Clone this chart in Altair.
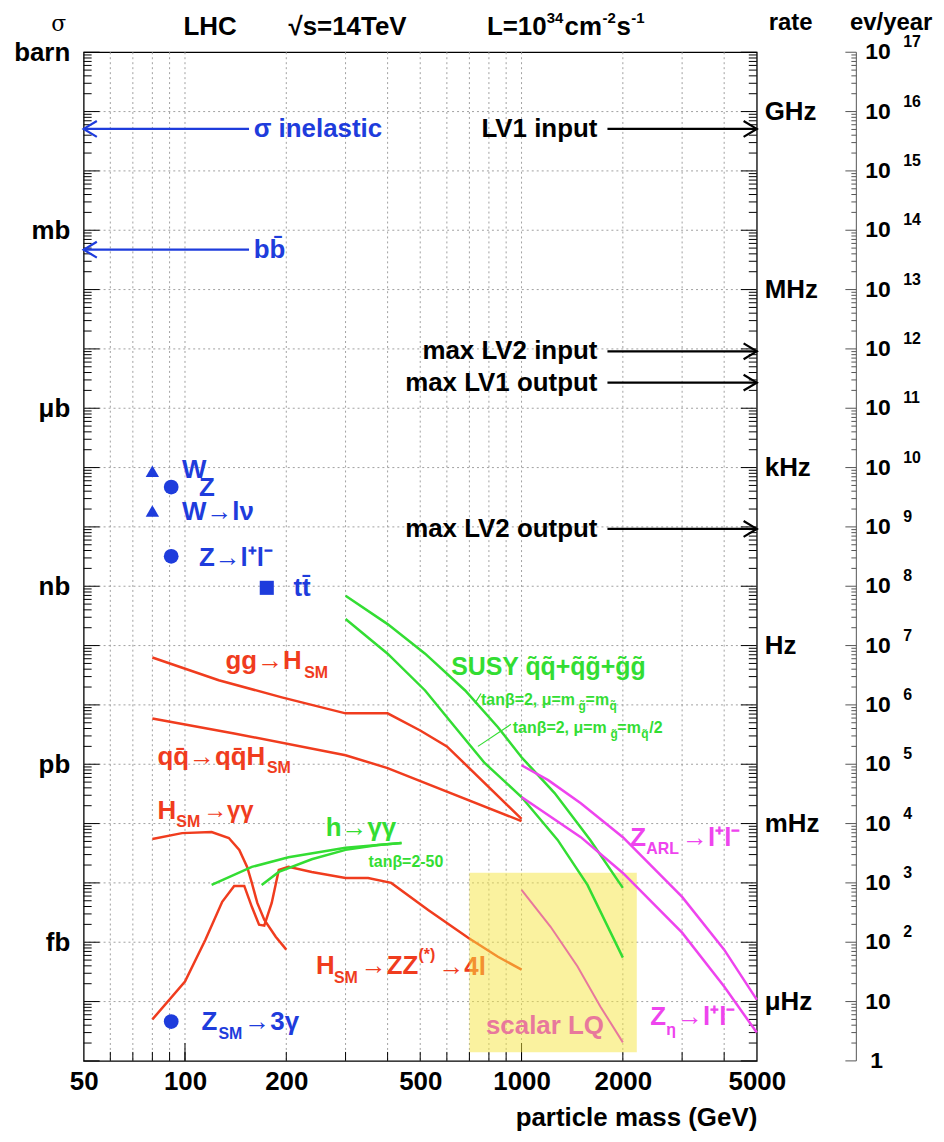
import altair as alt
import pandas as pd

FONT = "Liberation Sans"
BLUE = "#1e3cdc"
RED = "#f03c1e"
GREEN = "#33dd33"
MAGENTA = "#ee44ee"
PINK = "#e8789c"
BOXC = "#f5e640"

# ---------------- axes / tick values ----------------
mass_labels = [50, 100, 200, 500, 1000, 2000, 5000]
mass_grid = [60, 70, 80, 90, 100, 200, 300, 400, 500, 600, 700, 800, 900,
             1000, 2000, 3000, 4000]
mass_major = [100, 1000]
unit_vals = [1e17, 1e14, 1e11, 1e8, 1e5, 1e2]
unit_names = ["barn", "mb", "μb", "nb", "pb", "fb"]
rate_vals = [1e16, 1e13, 1e10, 1e7, 1e4, 1e1]
rate_names = ["GHz", "MHz", "kHz", "Hz", "mHz", "μHz"]
decades = list(range(0, 18))

# ---------------- curves (mass GeV, events / year) ----------------
gg_m = [80, 126, 194, 300, 400, 500, 600, 1000]
gg_ev = [6.3e6, 2.6e6, 1.34e6, 7.2e5, 7.2e5, 3.7e5, 2.0e5, 1.2e4]

qq_m = [80, 140, 300, 400, 1000]
qq_ev = [5.9e5, 3.3e5, 1.42e5, 8.6e4, 1.1e4]

hgg_m = [80, 98, 120, 135, 145, 153, 158, 164, 172, 186, 200]
hgg_ev = [5.5e3, 6.9e3, 7.2e3, 5.7e3, 3.6e3, 1.86e3, 1.0e3, 460, 240, 124, 75]

hzz_m = [80, 100, 115, 129, 140, 150, 158, 166, 172, 181, 190, 203, 238,
         300, 350, 410, 528, 694, 851, 1000]
hzz_ev = [5.0, 21.7, 110, 480, 890, 890, 395, 197, 190, 460, 1650, 1860,
          1530, 1210, 1210, 1000, 350, 119, 57, 34.5]

hsusy1_m = [120, 158, 203, 300, 440]
hsusy1_ev = [925, 1860, 2700, 3900, 4700]
hsusy2_m = [169, 190, 238, 300, 375, 440]
hsusy2_ev = [925, 1530, 2500, 3600, 4350, 4700]

susy1_m = [300, 400, 517, 680, 851, 1000, 1254, 1600, 2000]
susy1_ev = [6.9e7, 2.3e7, 7.3e6, 1.75e6, 4.2e5, 1.31e5, 3.26e4, 5.3e3, 825]
susy2_m = [300, 400, 517, 635, 778, 1000, 1280, 1570, 2000]
susy2_ev = [2.8e7, 7.3e6, 1.75e6, 4.2e5, 1.04e5, 2.8e4, 5.3e3, 925, 55]

zarl_m = [1000, 1200, 1500, 2000, 3000, 4000, 5000]
zarl_ev = [9.6e4, 5.4e4, 2.2e4, 5.9e3, 580, 75, 10.8]
zeta_m = [1000, 1500, 2000, 3000, 4000, 5000]
zeta_ev = [2.8e4, 5.9e3, 1.47e3, 145, 17.9, 3.0]

lq_m = [1000, 1220, 1467, 1716, 2000]
lq_ev = [760, 182, 39, 8.2, 2.05]

lq_box_m = [700, 2200]
lq_box_ev = [1.4, 1480]

# single processes (markers)
mk_m = [80, 91, 80, 91, 175, 91]
mk_ev = [8.7e9, 4.7e9, 1.86e9, 3.2e8, 9.4e7, 4.6]
mk_shape = ["triangle-up", "circle", "triangle-up", "circle", "square", "circle"]
mk_size = [180, 220, 180, 220, 200, 220]

# arrows: start mass, end mass, level
arrL_m0 = [155, 155]
arrL_m1 = [50, 50]
arrL_ev = [5.1e15, 4.7e13]
arrR_m0 = [1800, 1800, 1800, 1800]
arrR_m1 = [5000, 5000, 5000, 5000]
arrR_ev = [5.1e15, 9.1e11, 2.7e11, 9.25e8]

# leader lines for the tan(beta) notes
lead_m0 = [758, 930]
lead_ev0 = [1.56e6, 4.7e5]
lead_m1 = [727, 742]
lead_ev1 = [1.06e6, 2.0e5]

# text pieces: text, mass, ev, color, size, dx, dy, align
RED_LABELS = [
    ("gg→H", 132, 5.4e6, RED, 26, 0, 0, "left"),
    ("SM", 132, 5.4e6, RED, 16, 79, 12, "left"),
    ("qq̄→qq̄H", 82.8, 1.31e5, RED, 26, 0, 0, "left"),
    ("SM", 82.8, 1.31e5, RED, 16, 110, 11, "left"),
    ("H", 82.8, 1.62e4, RED, 26, 0, 0, "left"),
    ("SM", 82.8, 1.62e4, RED, 16, 19, 11, "left"),
    ("→γγ", 82.8, 1.62e4, RED, 24, 46, 0, "left"),
    ("H", 245, 40, RED, 26, 0, 0, "left"),
    ("SM", 245, 40, RED, 16, 18, 12, "left"),
    ("→ZZ", 245, 40, RED, 26, 45, 0, "left"),
    ("(*)", 245, 40, RED, 16, 103, -11, "left"),
    ("→4l", 245, 40, RED, 26, 123, 1, "left"),
]
LABELS = [
    ("σ inelastic", 160, 5.1e15, BLUE, 26, 0, 0, "left"),
    ("bb̄", 160, 4.7e13, BLUE, 26, 0, 0, "left"),
    ("LV1 input", 1680, 5.1e15, "black", 26, 0, 0, "right"),
    ("max LV2 input", 1680, 9.1e11, "black", 26, 0, 0, "right"),
    ("max LV1 output", 1680, 2.7e11, "black", 26, 0, 0, "right"),
    ("max LV2 output", 1680, 9.25e8, "black", 26, 0, 0, "right"),
    ("W", 98, 9.1e9, BLUE, 26, 0, 0, "left"),
    ("Z", 98, 9.1e9, BLUE, 26, 17, 18, "left"),
    ("W→lν", 98, 1.79e9, BLUE, 26, 0, 0, "left"),
    ("Z→l⁺l⁻", 110, 3.0e8, BLUE, 26, 0, 0, "left"),
    ("tt̄", 210, 9.4e7, BLUE, 26, 0, 0, "left"),
    ("Z", 112, 4.6, BLUE, 26, 0, 0, "left"),
    ("SM", 112, 4.6, BLUE, 16, 17, 12, "left"),
    ("→3γ", 112, 4.6, BLUE, 26, 43, 0, "left"),
    ("h→γγ", 262, 8.4e3, GREEN, 26, 0, 0, "left"),
    ("tanβ=2-50", 351, 2.25e3, GREEN, 16, 0, 0, "left"),
    ("SUSY q̃q̃+q̃g̃+g̃g̃", 618, 4.4e6, GREEN, 25, 0, 0, "left"),
    ("tanβ=2, μ=m", 758, 1.19e6, GREEN, 16, 0, 0, "left"),
    ("g̃", 758, 1.19e6, GREEN, 12, 98, 6, "left"),
    ("=m", 758, 1.19e6, GREEN, 16, 105, 0, "left"),
    ("q̃", 758, 1.19e6, GREEN, 12, 129, 6, "left"),
    ("tanβ=2, μ=m", 942, 4.0e5, GREEN, 16, 0, 0, "left"),
    ("g̃", 942, 4.0e5, GREEN, 12, 98, 6, "left"),
    ("=m", 942, 4.0e5, GREEN, 16, 105, 0, "left"),
    ("q̃", 942, 4.0e5, GREEN, 12, 129, 6, "left"),
    ("/2", 942, 4.0e5, GREEN, 16, 137, 0, "left"),
    ("Z", 2105, 5.7e3, MAGENTA, 26, 0, 0, "left"),
    ("ARL", 2105, 5.7e3, MAGENTA, 16, 16, 11, "left"),
    ("→l⁺l⁻", 2105, 5.7e3, MAGENTA, 26, 52, 0, "left"),
    ("Z", 2412, 5.4, MAGENTA, 26, 0, 0, "left"),
    ("η", 2412, 5.4, MAGENTA, 16, 16, 13, "left"),
    ("→l⁺l⁻", 2412, 5.4, MAGENTA, 26, 27, 0, "left"),
    ("scalar LQ", 784, 3.8, PINK, 26, 0, 0, "left"),
]

# header texts (outside the frame): text, x px, y px, size, font, weight, align
HEADERS = [
    ("σ", -25, -28, 22, "DejaVu Serif", "normal", "center"),
    ("LHC", 127, -25, 26, FONT, "bold", "center"),
    ("√s=14TeV", 265, -25, 26, FONT, "bold", "center"),
    ("L=10", 405, -25, 26, FONT, "bold", "left"),
    ("34", 465, -34, 15, FONT, "bold", "left"),
    ("cm", 483, -25, 26, FONT, "bold", "left"),
    ("-2", 521, -34, 15, FONT, "bold", "left"),
    ("s", 535, -25, 26, FONT, "bold", "left"),
    ("-1", 550, -34, 15, FONT, "bold", "left"),
    ("rate", 710, -29, 24, FONT, "bold", "center"),
    ("ev/year", 811, -29, 24, FONT, "bold", "center"),
]

# ---------------- layout ----------------
W = 676
H = 1013
EVX = 776

xs = alt.Scale(type="log", domain=[50, 5000], nice=False)
ys = alt.Scale(type="log", domain=[1, 1e17], nice=False)

expr = ""
for v, n in zip(unit_vals, unit_names):
    d = len(str(int(v))) - 1
    expr += f"round(log(datum.value)/LN10)=={d}?'{n}':"
expr += "''"

xaxis = alt.Axis(values=mass_labels, format="d", labelFont=FONT, labelFontSize=26,
                 labelFontWeight="bold", labelColor="black", labelPadding=8,
                 labelFlush=False, ticks=False, tickSize=0, domain=False, grid=False,
                 title="particle mass (GeV)", titleFont=FONT, titleFontSize=26,
                 titleFontWeight="bold", titleColor="black", titleAnchor="end",
                 titlePadding=10)
yaxis = alt.Axis(values=unit_vals, labelExpr=expr, labelFont=FONT, labelFontSize=26,
                 labelFontWeight="bold", labelColor="black", labelPadding=14,
                 ticks=False, tickSize=0, domain=False, grid=False, title=None)


def X(f="m"):
    return alt.X(f"{f}:Q", scale=xs, axis=xaxis)


def Y(f="ev"):
    return alt.Y(f"{f}:Q", scale=ys, axis=yaxis)


layers = []

# grid
hgrid = pd.DataFrame({"ev": [10.0 ** d for d in decades[1:-1]]})
layers.append(alt.Chart(hgrid).mark_rule(color="#a0a0a0", strokeWidth=1, strokeDash=[2, 3])
              .encode(y=Y(), x=alt.value(0), x2=alt.value(W)))
vgrid = pd.DataFrame({"m": mass_grid})
layers.append(alt.Chart(vgrid).mark_rule(color="#a0a0a0", strokeWidth=1, strokeDash=[2, 3])
              .encode(x=X(), y=alt.value(0), y2=alt.value(H)))

# frame ticks
ymaj = pd.DataFrame({"ev": [10.0 ** d for d in decades]})
ymin = pd.DataFrame({"ev": [k * 10.0 ** d for d in decades[:-1] for k in range(2, 10)]})


def hticks(df, x0, x1, color="black"):
    return alt.Chart(df).mark_rule(color=color, strokeWidth=1).encode(
        y=Y(), x=alt.value(x0), x2=alt.value(x1))


layers += [hticks(ymaj, 0, 16), hticks(ymin, 0, 8),
           hticks(ymaj, W, W - 16), hticks(ymin, W, W - 8)]
xmin = pd.DataFrame({"m": mass_grid})
xmaj = pd.DataFrame({"m": mass_major})
layers.append(alt.Chart(xmin).mark_rule(color="black", strokeWidth=1)
              .encode(x=X(), y=alt.value(H), y2=alt.value(H - 9)))
layers.append(alt.Chart(xmaj).mark_rule(color="black", strokeWidth=1)
              .encode(x=X(), y=alt.value(H), y2=alt.value(H - 18)))

# second (ev/year) axis
layers.append(alt.Chart(ymaj.head(1)).mark_rule(color="#555555", strokeWidth=1)
              .encode(x=alt.value(EVX), y=alt.value(0), y2=alt.value(H)))
layers += [hticks(ymaj, EVX, EVX - 11, "#555555"), hticks(ymin, EVX, EVX - 5, "#555555")]
evlab = pd.DataFrame({"ev": [10.0 ** d for d in decades[1:]],
                      "t": ["10"] * (len(decades) - 1)})
layers.append(alt.Chart(evlab).mark_text(align="left", baseline="middle", font=FONT,
                                         fontSize=23, fontWeight="bold", color="black")
              .encode(y=Y(), x=alt.value(EVX + 9), text="t:N"))
evone = pd.DataFrame({"ev": [1.0], "t": ["1"]})
layers.append(alt.Chart(evone).mark_text(align="left", baseline="middle", font=FONT,
                                         fontSize=23, fontWeight="bold", color="black")
              .encode(y=Y(), x=alt.value(EVX + 14), text="t:N"))
evexp = pd.DataFrame({"ev": [10.0 ** d for d in decades[2:]],
                      "t": [str(d) for d in decades[2:]]})
layers.append(alt.Chart(evexp).mark_text(align="left", baseline="middle", font=FONT,
                                         fontSize=16, fontWeight="bold", color="black", dy=-10)
              .encode(y=Y(), x=alt.value(EVX + 47), text="t:N"))

# rate labels
ratedf = pd.DataFrame({"ev": rate_vals, "t": rate_names})
layers.append(alt.Chart(ratedf).mark_text(align="left", baseline="middle", font=FONT,
                                          fontSize=26, fontWeight="bold", color="black")
              .encode(y=Y(), x=alt.value(W + 8), text="t:N"))


def line(m, ev, color, width=2.5):
    df = pd.DataFrame({"m": m, "ev": ev})
    return alt.Chart(df).mark_line(color=color, strokeWidth=width).encode(x=X(), y=Y())


def labels(rows):
    out = []
    for t, m, ev, c, s, dx, dy, al in rows:
        df = pd.DataFrame({"m": [m], "ev": [ev], "t": [t]})
        out.append(alt.Chart(df).mark_text(align=al, baseline="middle", font=FONT,
                                           fontSize=s, fontWeight="bold", color=c,
                                           dx=dx, dy=dy)
                   .encode(x=X(), y=Y(), text="t:N"))
    return out


# red SM Higgs curves
for m, ev in [(gg_m, gg_ev), (qq_m, qq_ev), (hgg_m, hgg_ev), (hzz_m, hzz_ev)]:
    layers.append(line(m, ev, RED))
layers += labels(RED_LABELS)

# LQ search box (translucent)
boxdf = pd.DataFrame({"m": [lq_box_m[0]], "m2": [lq_box_m[1]],
                      "ev": [lq_box_ev[0]], "ev2": [lq_box_ev[1]]})
layers.append(alt.Chart(boxdf).mark_rect(color=BOXC, opacity=0.5)
              .encode(x=X(), x2=alt.X2("m2:Q"), y=Y(), y2=alt.Y2("ev2:Q")))

# green, magenta, pink curves
for m, ev in [(hsusy1_m, hsusy1_ev), (hsusy2_m, hsusy2_ev),
              (susy1_m, susy1_ev), (susy2_m, susy2_ev)]:
    layers.append(line(m, ev, GREEN))
for m, ev in [(zarl_m, zarl_ev), (zeta_m, zeta_ev)]:
    layers.append(line(m, ev, MAGENTA))
layers.append(line(lq_m, lq_ev, PINK, 2))

leaddf = pd.DataFrame({"m": lead_m0, "ev": lead_ev0, "m2": lead_m1, "ev2": lead_ev1})
layers.append(alt.Chart(leaddf).mark_rule(color=GREEN, strokeWidth=1.2)
              .encode(x=X(), y=Y(), x2=alt.X2("m2:Q"), y2=alt.Y2("ev2:Q")))

# markers
mkdf = pd.DataFrame({"m": mk_m, "ev": mk_ev, "shape": mk_shape, "size": mk_size})
layers.append(alt.Chart(mkdf).mark_point(filled=True, color=BLUE, opacity=1)
              .encode(x=X(), y=Y(), shape=alt.Shape("shape:N", scale=None),
                      size=alt.Size("size:Q", scale=None)))

# arrows
aL = pd.DataFrame({"m": arrL_m0, "m2": arrL_m1, "ev": arrL_ev})
aR = pd.DataFrame({"m": arrR_m0, "m2": arrR_m1, "ev": arrR_ev})
layers.append(alt.Chart(aL).mark_rule(color=BLUE, strokeWidth=2.2)
              .encode(x=X(), x2=alt.X2("m2:Q"), y=Y()))
layers.append(alt.Chart(aR).mark_rule(color="black", strokeWidth=2.2)
              .encode(x=X(), x2=alt.X2("m2:Q"), y=Y()))
layers.append(alt.Chart(pd.DataFrame({"m": arrL_m1, "ev": arrL_ev}))
              .mark_point(shape="M1,-0.6L0,0L1,0.6", filled=False, size=700,
                          color=BLUE, strokeWidth=2.2, opacity=1)
              .encode(x=X(), y=Y()))
layers.append(alt.Chart(pd.DataFrame({"m": arrR_m1, "ev": arrR_ev}))
              .mark_point(shape="M-1,-0.6L0,0L-1,0.6", filled=False, size=700,
                          color="black", strokeWidth=2.2, opacity=1)
              .encode(x=X(), y=Y()))

layers += labels(LABELS)

# headers
for t, px, py, s, f, wgt, al in HEADERS:
    df = pd.DataFrame({"t": [t]})
    layers.append(alt.Chart(df).mark_text(align=al, baseline="middle", font=f,
                                          fontSize=s, fontWeight=wgt, color="black")
                  .encode(x=alt.value(px), y=alt.value(py), text="t:N"))

chart = alt.layer(*layers).properties(
    width=W, height=H,
    autosize=alt.AutoSizeParams(type="none"),
    padding={"left": 76, "top": 42, "right": 180, "bottom": 75},
    background="white",
).configure_view(stroke="black", strokeWidth=1.3)

chart.save("out.html", embed_options={"renderer": "svg", "actions": False})
